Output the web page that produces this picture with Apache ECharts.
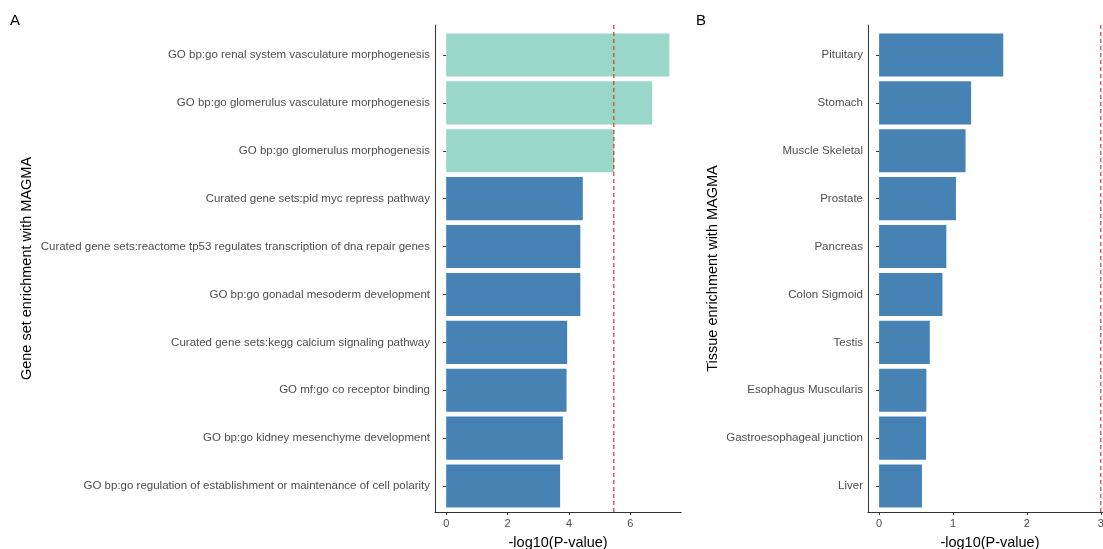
<!DOCTYPE html>
<html>
<head>
<meta charset="utf-8">
<script src="https://cdn.jsdelivr.net/npm/echarts@6/dist/echarts.min.js"></script>
<style>
html,body{margin:0;padding:0;background:#fff;}
#chart{width:1103px;height:549px;}
</style>
</head>
<body>
<div id="chart"></div>
<script>
// ---- Data ----
const labelsA = [
  'GO bp:go renal system vasculature morphogenesis',
  'GO bp:go glomerulus vasculature morphogenesis',
  'GO bp:go glomerulus morphogenesis',
  'Curated gene sets:pid myc repress pathway',
  'Curated gene sets:reactome tp53 regulates transcription of dna repair genes',
  'GO bp:go gonadal mesoderm development',
  'Curated gene sets:kegg calcium signaling pathway',
  'GO mf:go co receptor binding',
  'GO bp:go kidney mesenchyme development',
  'GO bp:go regulation of establishment or maintenance of cell polarity'
];
const valuesA = [7.27, 6.71, 5.47, 4.45, 4.37, 4.37, 3.94, 3.92, 3.80, 3.71];
const groupsA = ['sig', 'sig', 'sig', 'ns', 'ns', 'ns', 'ns', 'ns', 'ns', 'ns'];
const thresholdA = 5.46;
const ticksA = [0, 2, 4, 6];

const labelsB = [
  'Pituitary', 'Stomach', 'Muscle Skeletal', 'Prostate', 'Pancreas',
  'Colon Sigmoid', 'Testis', 'Esophagus Muscularis', 'Gastroesophageal junction', 'Liver'
];
const valuesB = [1.68, 1.245, 1.17, 1.04, 0.91, 0.857, 0.686, 0.64, 0.636, 0.58];
const groupsB = ['ns', 'ns', 'ns', 'ns', 'ns', 'ns', 'ns', 'ns', 'ns', 'ns'];
const thresholdB = 3.0;
const ticksB = [0, 1, 2, 3];

// ---- Styles ----
const FONT = '"Liberation Sans", Arial, Helvetica, sans-serif';
const colorMap = { sig: '#99d8c9', ns: '#4682b4' };
const axisColor = '#333333';
const labelColor = '#4d4d4d';

function barData(values, groups) {
  return values.map((v, i) => ({ value: v, itemStyle: { color: colorMap[groups[i]] } }));
}

const chart = echarts.init(document.getElementById('chart'), null, { renderer: 'canvas' });

function valueAxisVisible(grid, min, max, ticks) {
  return {
    type: 'value', gridIndex: grid, min: min, max: max,
    name: '-log10(P-value)', nameLocation: 'middle', nameGap: 23,
    nameTextStyle: { color: '#000', fontSize: 14.5, fontFamily: FONT },
    axisLine: { show: true, onZero: false, lineStyle: { color: axisColor, width: 1 } },
    axisTick: { show: true, length: 3, customValues: ticks, lineStyle: { color: axisColor } },
    axisLabel: { show: true, customValues: ticks, color: labelColor, fontSize: 11, fontFamily: FONT, margin: 6 },
    splitLine: { show: false }
  };
}
function valueAxisHidden(grid, min, max) {
  return { type: 'value', gridIndex: grid, min: min, max: max, show: false, splitLine: { show: false } };
}
function yFrame(grid, title, gap) {
  return {
    type: 'value', gridIndex: grid, min: 0, max: 1,
    name: title, nameLocation: 'middle', nameRotate: 90, nameGap: gap,
    nameTextStyle: { color: '#000', fontSize: 14.5, fontFamily: FONT },
    axisLine: { show: true, onZero: false, lineStyle: { color: axisColor, width: 1 } },
    axisTick: { show: false }, axisLabel: { show: false }, splitLine: { show: false }
  };
}
function yCat(grid, labels) {
  return {
    type: 'category', gridIndex: grid, data: labels, inverse: true,
    axisLine: { show: false },
    axisTick: { show: true, length: 3, alignWithLabel: true, lineStyle: { color: axisColor } },
    axisLabel: { color: labelColor, fontSize: 11.5, fontFamily: FONT, margin: 5 },
    splitLine: { show: false }
  };
}

const minA = -0.365, maxA = 7.655;
const minB = -0.15, maxB = 3.15;

chart.setOption({
  animation: false,
  backgroundColor: '#ffffff',
  textStyle: { fontFamily: FONT },
  title: [
    { text: 'A', left: 5, top: 8, textStyle: { fontSize: 15, fontWeight: 'normal', color: '#000', fontFamily: FONT } },
    { text: 'B', left: 691, top: 8, textStyle: { fontSize: 15, fontWeight: 'normal', color: '#000', fontFamily: FONT } }
  ],
  grid: [
    { left: 435, top: 25, width: 246.2, height: 487, outerBoundsMode: 'none' },
    { left: 435, top: 31, width: 246.2, height: 479, outerBoundsMode: 'none' },
    { left: 868, top: 25, width: 243.9, height: 487, outerBoundsMode: 'none' },
    { left: 868, top: 31, width: 243.9, height: 479, outerBoundsMode: 'none' }
  ],
  xAxis: [
    valueAxisVisible(0, minA, maxA, ticksA),
    valueAxisHidden(1, minA, maxA),
    valueAxisVisible(2, minB, maxB, ticksB),
    valueAxisHidden(3, minB, maxB)
  ],
  yAxis: [
    yFrame(0, 'Gene set enrichment with MAGMA', 401),
    yCat(1, labelsA),
    yFrame(2, 'Tissue enrichment with MAGMA', 148),
    yCat(3, labelsB)
  ],
  series: [
    {
      type: 'bar', xAxisIndex: 1, yAxisIndex: 1,
      data: barData(valuesA, groupsA), barCategoryGap: '10%'
    },
    {
      type: 'line', xAxisIndex: 0, yAxisIndex: 0, showSymbol: false, silent: true,
      data: [[thresholdA, 0], [thresholdA, 1]],
      lineStyle: { color: '#e03030', width: 1.2, type: [4, 3] }, z: 5
    },
    {
      type: 'bar', xAxisIndex: 3, yAxisIndex: 3,
      data: barData(valuesB, groupsB), barCategoryGap: '10%'
    },
    {
      type: 'line', xAxisIndex: 2, yAxisIndex: 2, showSymbol: false, silent: true,
      data: [[thresholdB, 0], [thresholdB, 1]],
      lineStyle: { color: '#e03030', width: 1.2, type: [4, 3] }, z: 5
    }
  ]
});
</script>
</body>
</html>
